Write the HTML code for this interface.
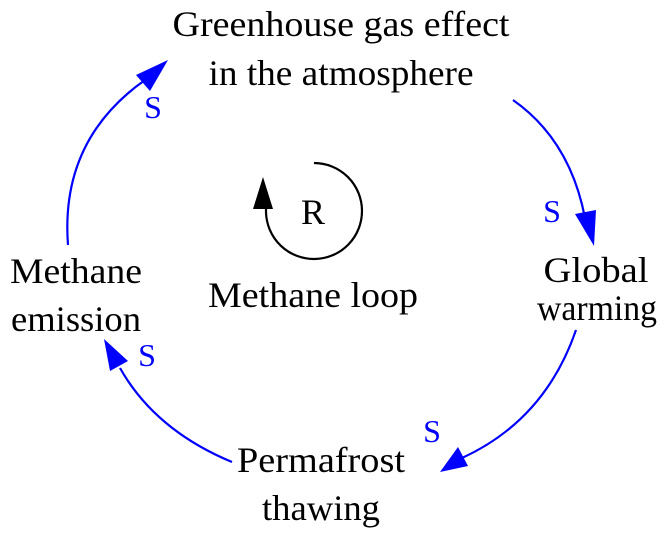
<!DOCTYPE html>
<html><head><style>
body{margin:0;background:#fff;}
svg{display:block;}
text{font-family:"Liberation Serif",serif;}
</style></head><body>
<svg width="667" height="535" viewBox="0 0 667 535" xmlns="http://www.w3.org/2000/svg">
<g font-size="36" fill="#000" text-anchor="middle">
<text x="341" y="36" textLength="337" lengthAdjust="spacingAndGlyphs">Greenhouse gas effect</text>
<text x="341" y="85" textLength="265" lengthAdjust="spacingAndGlyphs">in the atmosphere</text>
<text x="596" y="282" textLength="105" lengthAdjust="spacingAndGlyphs">Global</text>
<text x="597" y="320" textLength="120" lengthAdjust="spacingAndGlyphs">warming</text>
<text x="321" y="472" textLength="168" lengthAdjust="spacingAndGlyphs">Permafrost</text>
<text x="321" y="520" textLength="118" lengthAdjust="spacingAndGlyphs">thawing</text>
<text x="76" y="283" textLength="132" lengthAdjust="spacingAndGlyphs">Methane</text>
<text x="76" y="331" textLength="130" lengthAdjust="spacingAndGlyphs">emission</text>
<text x="313" y="307" textLength="210" lengthAdjust="spacingAndGlyphs">Methane loop</text>
<text x="313" y="224">R</text>
</g>
<g font-size="32" fill="#0000ff" text-anchor="middle">
<text x="153" y="118">S</text>
<text x="552" y="222">S</text>
<text x="432" y="442">S</text>
<text x="147" y="366">S</text>
</g>
<g fill="none" stroke="#0000ff" stroke-width="2.2">
<path d="M513,100 Q570,140 585,218"/>
<path d="M576,330 Q545,420 462,458"/>
<path d="M232,462 Q155,430 120,368"/>
<path d="M68,245 Q60,140 145,80"/>
</g>
<g fill="#0000ff">
<polygon points="594,246 575,214 596,210"/>
<polygon points="440,472 458,447 468,466"/>
<polygon points="104,339 128,361 110,371"/>
<polygon points="168,60 150,91 136,75"/>
</g>
<path d="M314,163 A48,48 0 1 1 266,212 L266,205" fill="none" stroke="#000" stroke-width="2.2"/>
<polygon points="263,177 253,209 273,209" fill="#000"/>
</svg>
</body></html>
